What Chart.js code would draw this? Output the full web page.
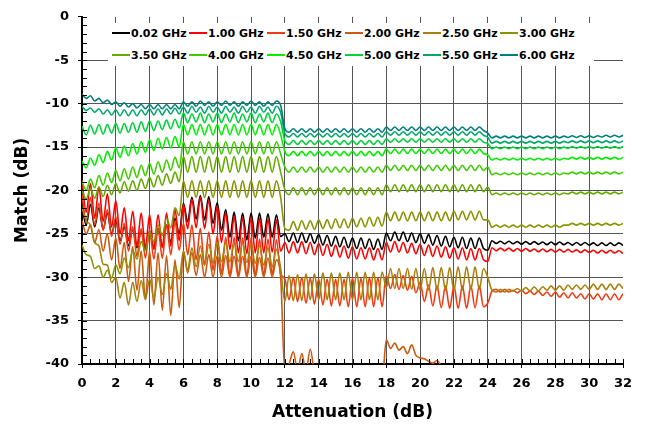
<!DOCTYPE html>
<html>
<head>
<meta charset="utf-8">
<script src="https://cdn.jsdelivr.net/npm/chart.js@4.4.0/dist/chart.umd.min.js"></script>
<style>
html, body { margin: 0; padding: 0; background: #fff; }
#wrap { position: relative; width: 652px; height: 426px; }
#legend { position: absolute; left: 108px; top: 23px; width: 486px; height: 43px; background: #fff; font: bold 11px "DejaVu Sans"; }
.item { position: absolute; display: flex; align-items: center; white-space: nowrap; color: #000; height: 14px; }
.item .ln { display: inline-block; width: 18px; height: 2px; margin-right: 1px; }
</style>
</head>
<body>
<div id="wrap">
<canvas id="matchChart" width="652" height="426"></canvas>
<div id="legend"></div>
</div>
<script>
// attenuation steps (dB), shared by every series
const attenuation = [
  0,0.25,0.5,0.75,1,1.25,1.5,1.75,2,2.25,2.5,2.75,3,3.25,3.5,3.75,4,4.25,4.5,4.75,5,5.25,5.5,5.75,
  6,6.25,6.5,6.75,7,7.25,7.5,7.75,8,8.25,8.5,8.75,9,9.25,9.5,9.75,10,10.25,10.5,10.75,11,11.25,11.5,11.75,
  12,12.25,12.5,12.75,13,13.25,13.5,13.75,14,14.25,14.5,14.75,15,15.25,15.5,15.75,16,16.25,16.5,16.75,17,17.25,17.5,17.75,
  18,18.25,18.5,18.75,19,19.25,19.5,19.75,20,20.25,20.5,20.75,21,21.25,21.5,21.75,22,22.25,22.5,22.75,23,23.25,23.5,23.75,
  24,24.25,24.5,24.75,25,25.25,25.5,25.75,26,26.25,26.5,26.75,27,27.25,27.5,27.75,28,28.25,28.5,28.75,29,29.25,29.5,29.75,30,30.25,30.5,30.75,31,31.25,31.5,31.75,32
];

const seriesLabels = ["0.02 GHz","1.00 GHz","1.50 GHz","2.00 GHz","2.50 GHz","3.00 GHz",
                      "3.50 GHz","4.00 GHz","4.50 GHz","5.00 GHz","5.50 GHz","6.00 GHz"];
const seriesColors = ["#000000","#ff0000","#f03c14","#cc5a10","#a8800c","#8a9400",
                      "#66aa00","#3fcc00","#00f000","#00d23c","#00a86a","#00807c"];

// match (dB)
const s0_02 = [
  -21.8,-24.0,-21.6,-24.2,-22.0,-24.5,-22.6,-25.0,-23.4,-25.8,-24.2,-26.4,-24.5,-26.6,-24.6,-26.8,-24.7,-26.7,-24.4,-26.5,-24.0,-26.0,-23.2,-25.0,
  -21.5,-23.6,-20.8,-23.3,-20.6,-23.4,-20.7,-23.8,-21.4,-24.6,-22.2,-25.4,-22.5,-25.8,-22.6,-25.7,-22.6,-25.5,-22.6,-25.4,-22.7,-25.4,-22.8,-25.3,
  -25.0,-25.9,-24.9,-26.0,-24.9,-26.0,-25.0,-26.1,-25.1,-26.3,-25.2,-26.4,-25.3,-26.5,-25.4,-26.6,-25.5,-26.7,-25.5,-26.7,-25.6,-26.8,-25.6,-26.8,
  -24.9,-25.8,-24.8,-25.8,-24.8,-25.9,-24.9,-26.0,-25.0,-26.1,-25.1,-26.3,-25.2,-26.4,-25.3,-26.5,-25.4,-26.6,-25.4,-26.7,-25.5,-26.7,-25.5,-26.7,
  -26.9,-25.8,-26.1,-25.85,-26.15,-25.85,-26.15,-25.9,-26.2,-25.9,-26.2,-25.9,-26.2,-25.95,-26.25,-25.95,-26.25,-25.95,-26.25,-26.0,-26.3,-26.0,-26.3,-26.0,-26.3,-26.05,-26.35,-26.05,-26.35,-26.05,-26.35,-26.05,-26.35
];
const s1_00 = [
  -18.8,-22.5,-19.2,-23.2,-19.6,-23.6,-20.4,-24.2,-21.2,-25.0,-22.0,-25.8,-22.4,-26.4,-22.6,-26.6,-22.8,-26.8,-22.8,-26.6,-22.6,-26.4,-22.2,-25.8,
  -21.6,-24.4,-21.0,-24.3,-20.8,-24.4,-21.1,-25.0,-21.8,-26.0,-22.6,-26.8,-23.0,-27.2,-23.1,-27.3,-23.1,-27.2,-23.2,-27.2,-23.3,-27.1,-23.4,-27.0,
  -26.0,-27.2,-25.9,-27.2,-25.9,-27.3,-26.0,-27.4,-26.1,-27.5,-26.2,-27.6,-26.3,-27.7,-26.4,-27.8,-26.5,-27.9,-26.6,-27.9,-26.6,-28.0,-26.7,-28.0,
  -26.0,-27.1,-25.9,-27.1,-26.0,-27.2,-26.1,-27.3,-26.2,-27.5,-26.3,-27.6,-26.4,-27.7,-26.5,-27.8,-26.6,-27.9,-26.6,-28.0,-26.7,-28.0,-26.7,-28.0,
  -28.2,-26.6,-26.95,-26.65,-26.95,-26.65,-27.0,-26.7,-27.0,-26.7,-27.0,-26.75,-27.05,-26.75,-27.05,-26.8,-27.1,-26.8,-27.1,-26.8,-27.1,-26.85,-27.15,-26.85,-27.15,-26.9,-27.2,-26.9,-27.2,-26.9,-27.2,-26.95,-27.25
];
const s1_50 = [
  -20.5,-23.5,-20.8,-24.0,-21.5,-24.6,-22.2,-25.3,-23.0,-26.2,-23.8,-27.0,-24.2,-27.6,-24.4,-27.8,-24.5,-27.9,-24.4,-27.8,-24.0,-27.4,-23.6,-26.9,
  -23.8,-27.4,-24.0,-28.0,-24.4,-28.6,-24.8,-29.2,-25.2,-29.6,-25.4,-29.8,-25.4,-29.9,-25.5,-29.9,-25.5,-29.8,-25.6,-29.8,-25.6,-29.7,-25.7,-29.6,
  -30.2,-32.6,-30.0,-32.8,-30.0,-33.0,-30.1,-33.1,-30.2,-33.2,-30.2,-33.3,-30.2,-33.3,-30.2,-33.4,-30.1,-33.4,-30.1,-33.4,-30.0,-33.4,-30.0,-33.4,
  -29.8,-31.3,-29.7,-31.4,-29.8,-31.5,-29.9,-31.8,-30.6,-32.8,-30.9,-33.3,-31.0,-33.5,-31.0,-33.6,-31.0,-33.6,-31.0,-33.6,-31.0,-33.5,-31.0,-33.4,
  -33.0,-31.6,-31.4,-31.7,-31.4,-31.7,-31.5,-31.8,-31.5,-31.9,-31.6,-32.0,-31.6,-32.1,-31.7,-32.2,-31.7,-32.3,-31.8,-32.4,-31.8,-32.4,-31.9,-32.5,-31.9,-32.5,-31.9,-32.6,-31.9,-32.6,-31.9,-32.6,-31.9
];
const s2_00 = [
  -23.5,-25.0,-24.0,-26.0,-24.5,-27.0,-25.0,-28.0,-25.5,-29.0,-26.0,-30.5,-26.5,-31.5,-27.0,-32.5,-27.0,-33.2,-27.2,-33.8,-27.5,-34.4,-28.0,-33.5,
  -27.0,-29.5,-27.2,-29.8,-27.4,-30.0,-27.4,-30.0,-27.5,-30.0,-27.5,-30.0,-27.6,-30.0,-27.6,-30.0,-27.6,-30.0,-27.7,-30.0,-27.8,-30.0,-28.0,-30.0,
  -41.0,-40.0,-38.6,-40.8,-38.8,-40.8,-38.3,-41.0,-42,-42,-42,-42,-42,-42,-42,-42,-42,-42,-42,-42,-42,-42,-42,-42,
  -37.2,-38.2,-37.6,-38.4,-38.0,-38.8,-37.8,-39.0,-39.3,-39.4,-39.7,-39.9,-39.6,-40.2,-40.5,-41.0,-40.3,-41.0,-40.2,-41.0,-41.0,-41.0,-40.2,-41.0,
  -42,-42,-42,-42,-42,-42,-42,-42,-42,-42,-42,-42,-42,-42,-42,-42,-42,-42,-42,-42,-42,-42,-42,-42,-42,-42,-42,-42,-42,-42,-42,-42,-42
];
const s2_50 = [
  -22.0,-23.5,-24.0,-26.0,-26.4,-28.5,-28.6,-30.6,-30.0,-32.4,-30.6,-33.2,-30.6,-32.8,-30.4,-32.6,-30.2,-32.4,-30.0,-32.0,-29.6,-31.4,-28.6,-30.2,
  -27.0,-29.2,-26.6,-28.8,-26.4,-28.6,-26.2,-28.4,-26.0,-28.2,-26.0,-28.2,-26.0,-28.2,-26.0,-28.3,-26.2,-28.4,-26.4,-28.6,-26.6,-28.8,-26.8,-29.0,
  -32.8,-29.8,-32.7,-29.7,-32.7,-29.6,-32.6,-29.6,-32.6,-29.5,-32.6,-29.5,-32.6,-29.5,-32.6,-29.4,-32.6,-29.4,-32.6,-29.4,-32.6,-29.4,-32.6,-29.4,
  -31.2,-29.0,-31.3,-29.0,-31.3,-29.0,-31.4,-29.0,-31.5,-29.0,-31.5,-28.9,-31.5,-28.9,-31.5,-28.9,-31.5,-28.8,-31.5,-28.8,-31.4,-28.8,-31.4,-29.0,
  -30.0,-31.5,-31.7,-31.4,-31.7,-31.4,-31.6,-31.3,-31.6,-31.2,-31.6,-31.1,-31.6,-31.1,-31.5,-31.0,-31.5,-31.0,-31.5,-30.9,-31.4,-30.9,-31.4,-30.9,-31.4,-30.8,-31.4,-30.8,-31.4,-30.8,-31.4,-30.8,-31.3
];
const s3_00 = [
  -26.3,-27.4,-27.6,-29.0,-28.7,-30.0,-29.2,-30.1,-28.6,-29.6,-27.8,-28.9,-26.9,-27.9,-25.9,-26.9,-24.9,-25.9,-24.0,-25.2,-23.2,-24.3,-22.0,-22.9,
  -18.9,-20.8,-18.9,-20.8,-18.9,-20.8,-18.9,-20.8,-18.9,-20.8,-18.9,-20.8,-18.9,-20.8,-18.9,-20.8,-18.9,-20.8,-18.9,-20.8,-18.9,-20.8,-18.9,-20.8,
  -24.4,-24.6,-23.6,-24.6,-23.5,-24.5,-23.5,-24.5,-23.4,-24.4,-23.4,-24.4,-23.3,-24.3,-23.3,-24.3,-23.2,-24.2,-23.2,-24.2,-23.1,-24.1,-23.1,-24.1,
  -22.5,-23.5,-22.5,-23.5,-22.5,-23.5,-22.5,-23.5,-22.5,-23.5,-22.5,-23.5,-22.5,-23.5,-22.5,-23.5,-22.4,-23.4,-22.4,-23.4,-22.4,-23.4,-22.4,-23.4,
  -23.4,-24.25,-24.0,-24.25,-24.0,-24.25,-24.0,-24.25,-24.0,-24.25,-24.0,-24.25,-24.0,-24.25,-24.0,-24.25,-24.0,-24.25,-24.0,-24.0,-23.8,-24.0,-23.8,-24.0,-23.8,-24.0,-23.8,-24.0,-23.8,-24.0,-23.8,-24.0,-23.8
];
const s3_50 = [
  -20.0,-21.0,-19.8,-20.9,-19.6,-20.7,-19.4,-20.5,-19.2,-20.3,-19.0,-20.1,-18.9,-20.0,-18.7,-19.8,-18.5,-19.6,-18.3,-19.4,-18.1,-19.2,-17.9,-19.0,
  -16.1,-17.9,-16.1,-17.9,-16.1,-17.9,-16.1,-17.9,-16.1,-17.9,-16.1,-17.9,-16.1,-17.9,-16.1,-17.9,-16.1,-17.9,-16.1,-17.9,-16.1,-17.9,-16.1,-17.9,
  -19.9,-20.5,-19.7,-20.5,-19.7,-20.5,-19.7,-20.5,-19.7,-20.5,-19.7,-20.5,-19.7,-20.5,-19.7,-20.5,-19.7,-20.5,-19.7,-20.5,-19.7,-20.5,-19.7,-20.5,
  -19.35,-20.15,-19.35,-20.15,-19.35,-20.15,-19.35,-20.15,-19.35,-20.15,-19.35,-20.15,-19.35,-20.15,-19.35,-20.15,-19.35,-20.15,-19.35,-20.15,-19.35,-20.15,-19.35,-20.15,
  -19.6,-20.5,-20.3,-20.5,-20.3,-20.5,-20.3,-20.5,-20.3,-20.5,-20.3,-20.5,-20.3,-20.5,-20.3,-20.5,-20.3,-20.5,-20.3,-20.4,-20.2,-20.4,-20.2,-20.4,-20.2,-20.4,-20.2,-20.4,-20.2,-20.4,-20.2,-20.4,-20.2
];
const s4_00 = [
  -19.0,-20.0,-18.7,-19.7,-18.3,-19.4,-18.0,-19.1,-17.7,-18.9,-17.5,-18.7,-17.3,-18.5,-17.1,-18.3,-16.9,-18.1,-16.7,-17.9,-16.5,-17.7,-16.2,-17.4,
  -14.4,-15.8,-14.4,-15.8,-14.4,-15.8,-14.4,-15.8,-14.4,-15.8,-14.4,-15.8,-14.4,-15.8,-14.4,-15.8,-14.4,-15.8,-14.4,-15.8,-14.4,-15.8,-14.4,-15.8,
  -17.3,-17.9,-17.3,-17.9,-17.3,-17.9,-17.3,-17.9,-17.3,-17.9,-17.3,-17.9,-17.3,-17.9,-17.3,-17.9,-17.3,-17.9,-17.3,-17.9,-17.3,-17.9,-17.3,-17.9,
  -17.1,-17.7,-17.1,-17.7,-17.1,-17.7,-17.1,-17.7,-17.1,-17.7,-17.1,-17.7,-17.1,-17.7,-17.1,-17.7,-17.1,-17.7,-17.1,-17.7,-17.1,-17.7,-17.1,-17.7,
  -17.3,-18.2,-18.0,-18.2,-18.0,-18.2,-18.0,-18.2,-18.0,-18.2,-18.0,-18.2,-18.0,-18.2,-18.0,-18.2,-18.0,-18.2,-18.0,-18.1,-17.9,-18.1,-17.9,-18.1,-17.9,-18.1,-17.9,-18.1,-17.9,-18.1,-17.9,-18.1,-17.9
];
const s4_50 = [
  -16.6,-17.4,-16.3,-17.1,-15.9,-16.8,-15.5,-16.5,-15.1,-16.2,-14.9,-16.0,-14.6,-15.8,-14.4,-15.6,-14.2,-15.4,-14.0,-15.2,-13.9,-15.1,-13.8,-15.0,
  -12.4,-13.6,-12.4,-13.6,-12.4,-13.6,-12.4,-13.6,-12.4,-13.6,-12.4,-13.6,-12.4,-13.6,-12.4,-13.6,-12.4,-13.6,-12.4,-13.6,-12.4,-13.6,-12.4,-13.6,
  -15.5,-16.0,-15.5,-16.0,-15.5,-16.0,-15.5,-16.0,-15.5,-16.0,-15.5,-16.0,-15.5,-16.0,-15.5,-16.0,-15.5,-16.0,-15.5,-16.0,-15.5,-16.0,-15.5,-16.0,
  -15.25,-15.75,-15.25,-15.75,-15.25,-15.75,-15.25,-15.75,-15.25,-15.75,-15.25,-15.75,-15.25,-15.75,-15.25,-15.75,-15.25,-15.75,-15.25,-15.75,-15.25,-15.75,-15.25,-15.75,
  -15.9,-16.5,-16.3,-16.5,-16.3,-16.5,-16.3,-16.5,-16.3,-16.5,-16.3,-16.5,-16.3,-16.5,-16.3,-16.5,-16.3,-16.5,-16.3,-16.4,-16.2,-16.4,-16.2,-16.4,-16.2,-16.4,-16.2,-16.4,-16.2,-16.4,-16.2,-16.4,-16.2
];
const s5_00 = [
  -12.6,-13.6,-12.5,-13.5,-12.4,-13.5,-12.4,-13.4,-12.3,-13.4,-12.3,-13.3,-12.2,-13.3,-12.1,-13.2,-12.0,-13.1,-12.0,-13.0,-11.9,-12.9,-11.8,-12.8,
  -11.1,-12.2,-11.2,-12.1,-11.1,-12.2,-11.2,-12.1,-11.1,-12.2,-11.2,-12.1,-11.1,-12.2,-11.2,-12.1,-11.1,-12.2,-11.2,-12.1,-11.1,-12.2,-11.2,-12.1,
  -14.25,-14.7,-14.25,-14.7,-14.25,-14.7,-14.25,-14.7,-14.25,-14.7,-14.25,-14.7,-14.25,-14.7,-14.25,-14.7,-14.25,-14.7,-14.25,-14.7,-14.25,-14.7,-14.25,-14.7,
  -14.05,-14.45,-14.05,-14.45,-14.05,-14.45,-14.05,-14.45,-14.05,-14.45,-14.05,-14.45,-14.05,-14.45,-14.05,-14.45,-14.05,-14.45,-14.05,-14.45,-14.05,-14.45,-14.05,-14.45,
  -14.6,-15.2,-15.0,-15.2,-15.0,-15.2,-15.0,-15.2,-15.0,-15.2,-15.0,-15.2,-15.0,-15.2,-15.0,-15.2,-15.0,-15.2,-15.0,-15.15,-14.95,-15.15,-14.95,-15.15,-14.95,-15.15,-14.95,-15.15,-14.95,-15.15,-14.95,-15.15,-14.95
];
const s5_50 = [
  -10.3,-10.8,-10.5,-11.0,-10.6,-11.2,-10.7,-11.3,-10.7,-11.4,-10.7,-11.4,-10.7,-11.4,-10.7,-11.3,-10.6,-11.3,-10.6,-11.3,-10.6,-11.2,-10.5,-11.2,
  -10.4,-11.1,-10.3,-11.0,-10.4,-11.1,-10.3,-11.0,-10.4,-11.1,-10.3,-11.0,-10.4,-11.1,-10.3,-11.0,-10.4,-11.1,-10.3,-11.0,-10.4,-11.1,-10.3,-11.0,
  -13.45,-13.85,-13.45,-13.85,-13.45,-13.85,-13.45,-13.85,-13.45,-13.85,-13.45,-13.85,-13.45,-13.85,-13.45,-13.85,-13.45,-13.85,-13.45,-13.85,-13.45,-13.85,-13.45,-13.85,
  -13.25,-13.65,-13.25,-13.65,-13.25,-13.65,-13.25,-13.65,-13.25,-13.65,-13.25,-13.65,-13.25,-13.65,-13.25,-13.65,-13.25,-13.65,-13.25,-13.65,-13.25,-13.65,-13.25,-13.65,
  -13.9,-14.55,-14.35,-14.55,-14.35,-14.55,-14.35,-14.55,-14.35,-14.55,-14.35,-14.55,-14.35,-14.55,-14.35,-14.55,-14.35,-14.55,-14.35,-14.5,-14.3,-14.5,-14.3,-14.5,-14.3,-14.5,-14.3,-14.5,-14.3,-14.5,-14.3,-14.5,-14.3
];
const s6_00 = [
  -8.9,-9.4,-9.1,-9.7,-9.4,-9.9,-9.6,-10.1,-9.8,-10.3,-9.9,-10.4,-10.0,-10.5,-10.1,-10.6,-10.1,-10.6,-10.1,-10.6,-10.1,-10.6,-10.1,-10.6,
  -9.8,-10.3,-9.8,-10.3,-9.7,-10.2,-9.8,-10.3,-9.8,-10.2,-9.7,-10.2,-9.8,-10.3,-9.8,-10.2,-9.7,-10.2,-9.8,-10.3,-9.8,-10.2,-9.7,-10.2,
  -12.9,-13.3,-12.9,-13.3,-12.9,-13.3,-12.9,-13.3,-12.9,-13.3,-12.9,-13.3,-12.9,-13.3,-12.9,-13.3,-12.9,-13.3,-12.9,-13.3,-12.9,-13.3,-12.9,-13.3,
  -12.7,-13.1,-12.7,-13.1,-12.7,-13.1,-12.7,-13.1,-12.7,-13.1,-12.7,-13.1,-12.7,-13.1,-12.7,-13.1,-12.7,-13.1,-12.7,-13.1,-12.7,-13.1,-12.7,-13.1,
  -13.4,-13.95,-13.75,-13.95,-13.75,-13.95,-13.75,-13.95,-13.75,-13.95,-13.75,-13.95,-13.75,-13.95,-13.75,-13.95,-13.75,-13.95,-13.75,-13.9,-13.7,-13.9,-13.7,-13.9,-13.7,-13.9,-13.7,-13.85,-13.65,-13.85,-13.65,-13.85,-13.65
];

const seriesValues = [s0_02, s1_00, s1_50, s2_00, s2_50, s3_00, s3_50, s4_00, s4_50, s5_00, s5_50, s6_00];
seriesValues.forEach((s, i) => { if (s.length !== attenuation.length) console.log(seriesLabels[i], s.length); });

Chart.defaults.font.family = "DejaVu Sans";
Chart.defaults.font.weight = "bold";
Chart.defaults.color = "#000";

// small inner ticks: 0.5 dB along x, 1 dB along y
const minorTicks = {
  id: 'minorTicks',
  afterDraw(chart) {
    const { ctx, chartArea, scales } = chart;
    ctx.save();
    ctx.strokeStyle = '#000';
    ctx.lineWidth = 1;
    ctx.beginPath();
    for (let v = 0; v <= 32; v += 0.5) {
      const px = Math.round(scales.x.getPixelForValue(v)) + 0.5;
      ctx.moveTo(px, chartArea.bottom);
      ctx.lineTo(px, chartArea.bottom - 5);
    }
    for (let v = -40; v <= 0; v += 1) {
      const py = Math.round(scales.y.getPixelForValue(v)) + 0.5;
      ctx.moveTo(chartArea.left, py);
      ctx.lineTo(chartArea.left + 5, py);
    }
    ctx.stroke();
    ctx.restore();
  }
};

const datasets = seriesLabels.map((label, i) => ({
  label: label,
  data: attenuation.map((x, j) => ({ x: x, y: seriesValues[i][j] })),
  borderColor: seriesColors[i],
  backgroundColor: seriesColors[i],
  borderWidth: 1.6,
  pointRadius: 0,
  cubicInterpolationMode: 'monotone',
  order: -i
}));

const matchChart = new Chart(document.getElementById("matchChart"), {
  type: 'line',
  data: { datasets: datasets },
  options: {
    responsive: false,
    animation: false,
    layout: { padding: { left: 0, top: 15, right: 29, bottom: 0 } },
    plugins: { legend: { display: false }, tooltip: { enabled: false } },
    scales: {
      x: {
        type: 'linear',
        min: 0, max: 32,
        afterFit: (scale) => { scale.height = 62; },
        ticks: { stepSize: 2, padding: 8, font: { size: 13, weight: 'bold' } },
        grid: {
          color: (c) => (c.tick && c.tick.value === 32) ? 'rgba(0,0,0,0)' : '#555',
          tickColor: '#000', tickLength: 4, lineWidth: 1
        },
        border: { color: '#000', width: 2 },
        title: { display: true, text: 'Attenuation (dB)', font: { size: 17, weight: 'bold' }, padding: { top: 0, bottom: 3 } }
      },
      y: {
        min: -40, max: 0,
        afterFit: (scale) => { scale.width = 82; },
        ticks: { stepSize: 5, padding: 9, font: { size: 13, weight: 'bold' } },
        grid: {
          color: (c) => (c.tick && c.tick.value === 0) ? 'rgba(0,0,0,0)' : '#555',
          tickColor: '#000', tickLength: 4, lineWidth: 1
        },
        border: { color: '#000', width: 2 },
        title: { display: true, text: 'Match (dB)', font: { size: 17, weight: 'bold' }, padding: { top: 12, bottom: 0 } }
      }
    }
  },
  plugins: [minorTicks]
});

// legend box inside the plot, two rows of six
const legendBox = document.getElementById("legend");
const colLeft = [4, 81, 159, 237, 315, 392];
seriesLabels.forEach((label, i) => {
  const item = document.createElement("div");
  item.className = "item";
  item.style.left = colLeft[i % 6] + "px";
  item.style.top = (i < 6 ? 3 : 25) + "px";
  item.innerHTML = '<span class="ln" style="background:' + seriesColors[i] + '"></span>' + label;
  legendBox.appendChild(item);
});
</script>
</body>
</html>
